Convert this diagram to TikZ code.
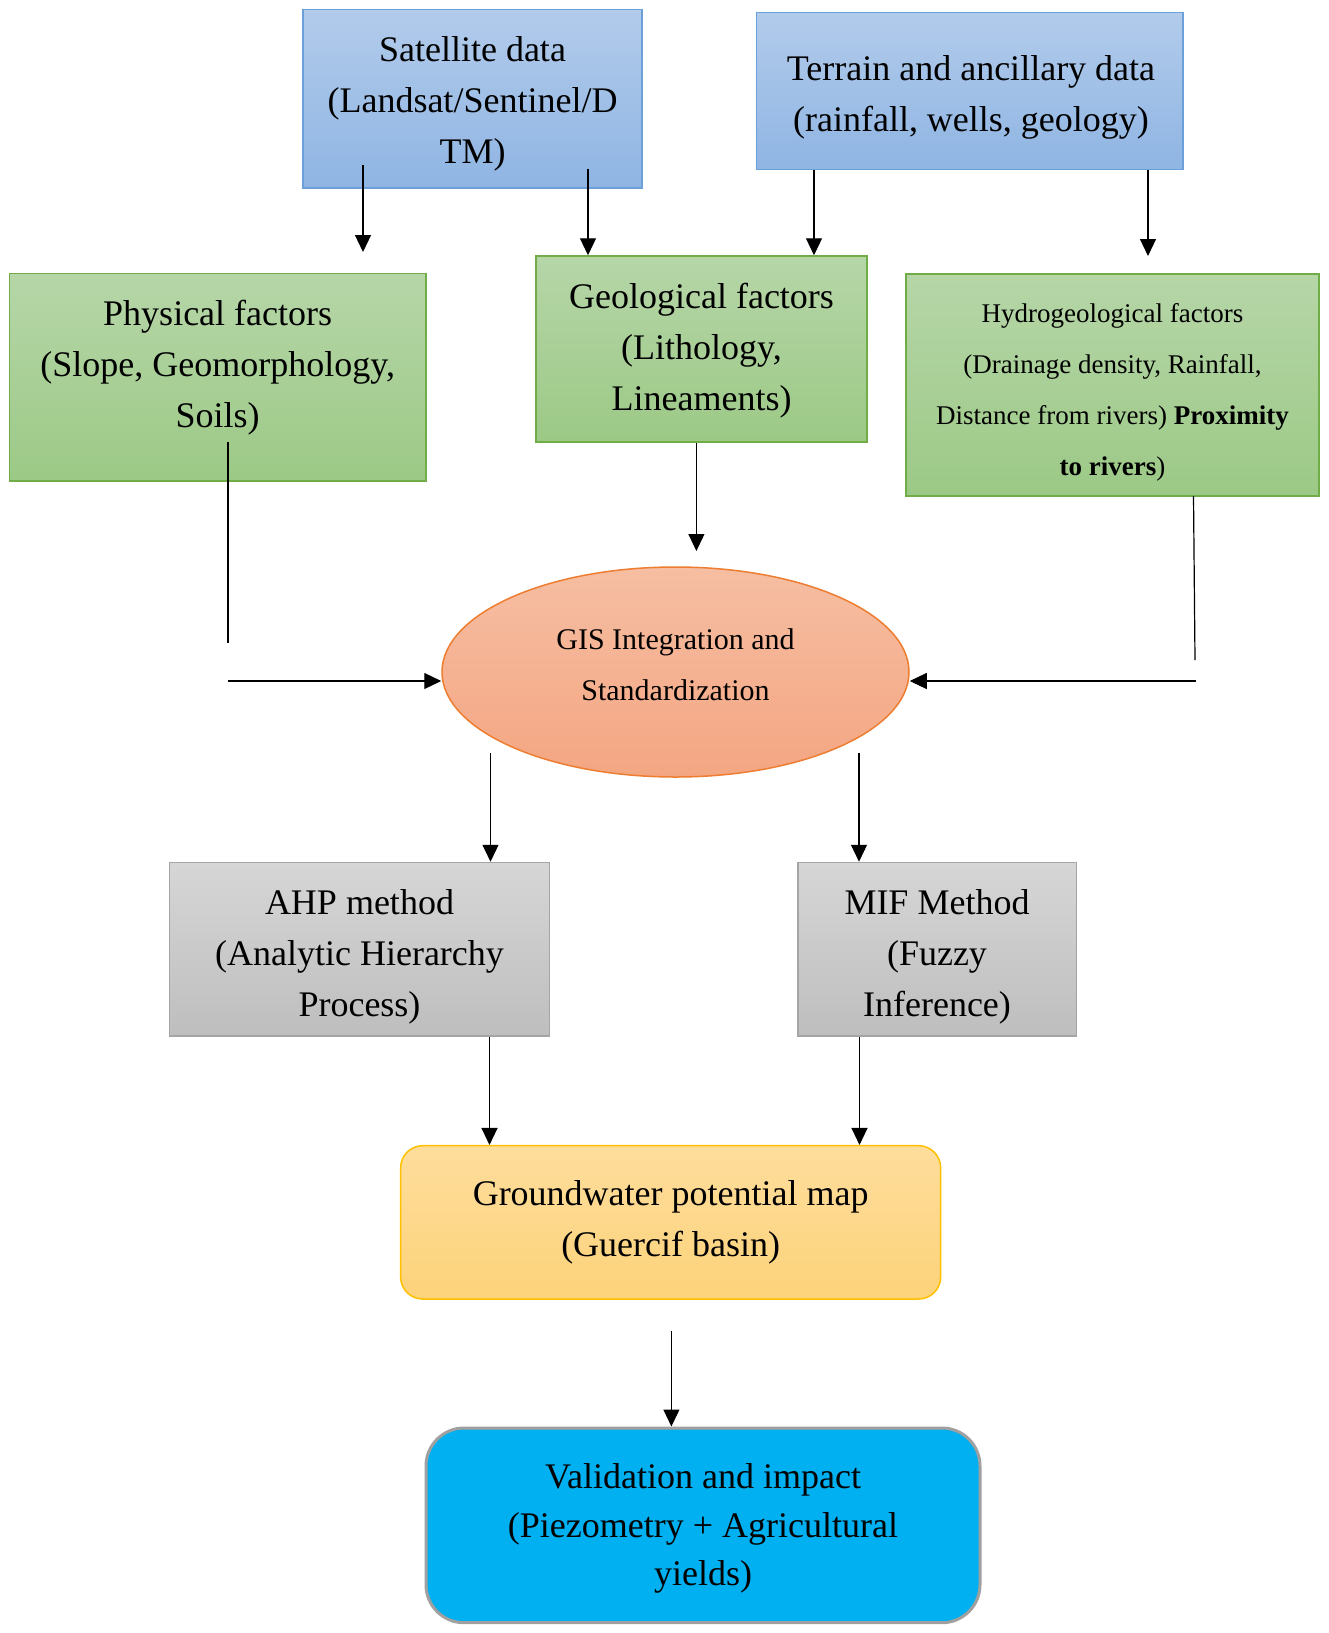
\documentclass[tikz,border=0pt]{standalone}
\usepackage{fontspec}
\setmainfont{Liberation Serif}
\usetikzlibrary{arrows.meta,shapes.geometric}
\definecolor{blueT}{RGB}{178,203,235}
\definecolor{blueB}{RGB}{143,181,227}
\definecolor{blueD}{RGB}{108,160,218}
\definecolor{greenT}{RGB}{182,214,168}
\definecolor{greenB}{RGB}{156,201,134}
\definecolor{greenD}{RGB}{112,173,71}
\definecolor{orT}{RGB}{246,190,162}
\definecolor{orB}{RGB}{244,166,130}
\definecolor{orD}{RGB}{237,125,49}
\definecolor{grT}{RGB}{214,214,214}
\definecolor{grB}{RGB}{190,190,190}
\definecolor{grD}{RGB}{165,165,165}
\definecolor{yeT}{RGB}{254,221,156}
\definecolor{yeB}{RGB}{253,211,122}
\definecolor{yeD}{RGB}{255,192,0}
\definecolor{cyanF}{RGB}{0,176,240}
\definecolor{valD}{RGB}{160,160,160}
\begin{document}
\begin{tikzpicture}[x={(0.5pt,0)},y={(0,-0.5pt)},
  boxbase/.style={rectangle,inner sep=0pt,line width=0.75pt},
  bluebox/.style={boxbase,draw=blueD,top color=blueT,bottom color=blueB},
  greenbox/.style={boxbase,draw=greenD,top color=greenT,bottom color=greenB},
  graybox/.style={boxbase,draw=grD,top color=grT,bottom color=grB},
  yellowbox/.style={boxbase,draw=yeD,top color=yeT,bottom color=yeB,rounded corners=11pt},
  valbox/.style={boxbase,draw=valD,fill=cyanF,line width=1.5pt,rounded corners=19pt},
  gisell/.style={ellipse,inner sep=0pt,line width=0.75pt,draw=orD,top color=orT,bottom color=orB},
  txt/.style={inner sep=0pt,align=center,font=\fontsize{18}{25.5}\selectfont},
  valtxt/.style={inner sep=0pt,align=center,font=\fontsize{18}{24.2}\selectfont},
  smalltxt/.style={inner sep=0pt,align=center,font=\fontsize{13.5}{25.5}\selectfont},
  midtxt/.style={inner sep=0pt,align=center,font=\fontsize{15}{25.5}\selectfont},
  arr/.style={line width=0.6pt,-{Triangle[length=8.5pt,width=8pt]}},
  ln/.style={line width=0.6pt}
]
\useasboundingbox (0,0) rectangle (1328,1633);
\fill[white] (0,0) rectangle (1328,1633);

% boxes
\node[bluebox,minimum width=169.5pt,minimum height=89.25pt] (sat) at (472.5,98.75) {};
\node[bluebox,minimum width=213.25pt,minimum height=78.3pt] (terr) at (969.75,91) {};
\node[greenbox,minimum width=208.35pt,minimum height=103.75pt] (phys) at (217.65,377.25) {};
\node[greenbox,minimum width=165.5pt,minimum height=93pt] (geo) at (701.5,349) {};
\node[greenbox,minimum width=206.5pt,minimum height=111pt] (hyd) at (1112.5,385) {};
\node[gisell,minimum width=233.5pt,minimum height=105pt] (gis) at (675.5,672) {};
\node[graybox,minimum width=190pt,minimum height=86.75pt] (ahp) at (359.5,949.25) {};
\node[graybox,minimum width=139.25pt,minimum height=86.75pt] (mif) at (937.25,949.25) {};
\node[yellowbox,minimum width=270pt,minimum height=76.65pt] (gw) at (670.65,1222.35) {};
\node[valbox,minimum width=277pt,minimum height=97.35pt] (val) at (703,1525.35) {};

% texts
\node[txt] (satT) at (472.5,103.5) {Satellite data\\(Landsat/Sentinel/D\\TM)};
\node[txt] (terrT) at (971,97.5) {Terrain and ancillary data\\(rainfall, wells, geology)};
\node[txt] (physT) at (217.7,368) {Physical factors\\(Slope, Geomorphology,\\Soils)};
\node[txt] (geoT) at (701.5,350.5) {Geological factors\\(Lithology,\\Lineaments)};
\node[smalltxt] (hydT) at (1112.5,392.5) {Hydrogeological factors\\(Drainage density, Rainfall,\\Distance from rivers) \textbf{Proximity}\\\textbf{to rivers})};
\node[midtxt] (gisT) at (675.5,665) {GIS Integration and\\Standardization};
\node[txt] (ahpT) at (359.5,957) {AHP method\\(Analytic Hierarchy\\Process)};
\node[txt] (mifT) at (937,957) {MIF Method\\(Fuzzy\\Inference)};
\node[txt] (gwT) at (670.7,1222.5) {Groundwater potential map\\(Guercif basin)};
\node[valtxt] (valT) at (703,1528.5) {Validation and impact\\(Piezometry + Agricultural\\yields)};

% connector coordinates
\coordinate (a1s) at (363,165);
\coordinate (a1e) at (363,252);
\coordinate (a2s) at (588,169);
\coordinate (a3) at (814,169);
\coordinate (a4e) at (1148,256);
\coordinate (b1) at (228,442);
\coordinate (b2) at (228,643);
\coordinate (b3) at (228,681);
\coordinate (c1) at (696.4,442);
\coordinate (c2) at (696.4,551);
\coordinate (d1) at (1193.5,496);
\coordinate (d2) at (1195,660);
\coordinate (d3) at (1195.5,681);
\coordinate (e1) at (490.5,753);
\coordinate (e2) at (859,753);
\coordinate (f1) at (489.5,1036);
\coordinate (f2) at (859.5,1036);
\coordinate (g1) at (671.4,1331);

% connectors
\draw[arr] (a1s) -- (a1e);
\draw[arr] (a2s) -- (a2s |- geo.north);
\draw[arr] (a3 |- terr.south) -- (a3 |- geo.north);
\draw[arr] (a4e |- terr.south) -- (a4e);
\draw[ln] (b1) -- (b2);
\draw[arr] (b3) -- (b3 -| gis.west);
\draw[arr] (c1 |- geo.south) -- (c2);
\draw[ln] (d1) -- (d2);
\draw[arr] (d3) -- (d3 -| gis.east);
\draw[arr] (e1) -- (e1 |- ahp.north);
\draw[arr] (e2) -- (e2 |- mif.north);
\draw[arr] (f1 |- ahp.south) -- (f1 |- gw.north);
\draw[arr] (f2 |- mif.south) -- (f2 |- gw.north);
\draw[arr] (g1) -- (g1 |- val.north);
\end{tikzpicture}
\end{document}
